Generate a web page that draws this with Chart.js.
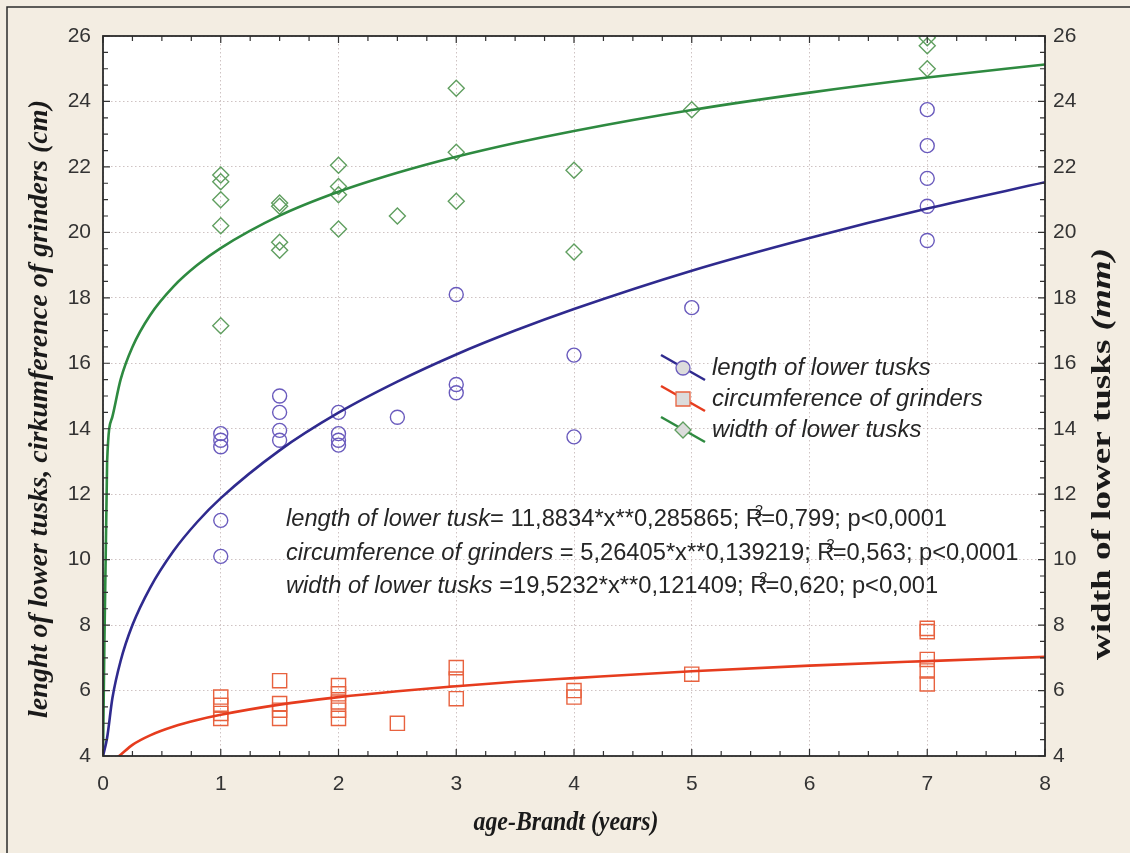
<!DOCTYPE html>
<html><head><meta charset="utf-8">
<script src="https://cdn.jsdelivr.net/npm/chart.js@4.4.1/dist/chart.umd.min.js"></script>
<style>html,body{margin:0;padding:0;background:#f3ede2;} canvas{display:block}</style>
</head><body>
<canvas id="c" width="1130" height="853" style="width:1130px;height:853px"></canvas>
<script>
// ---- data ----
const xTicks = [0,1,2,3,4,5,6,7,8];
const yTicks = [4,6,8,10,12,14,16,18,20,22,24,26];

const lengthX = [1,1,1,1,1, 1.5,1.5,1.5,1.5, 2,2,2,2, 2.5, 3,3,3, 4,4, 5, 7,7,7,7,7];
const lengthY = [13.85,13.65,13.45,11.2,10.1, 15.0,14.5,13.95,13.65, 14.5,13.85,13.65,13.5, 14.35, 18.1,15.35,15.1, 16.25,13.75, 17.7, 23.75,22.65,21.65,20.8,19.75];

const circX = [1,1,1,1, 1.5,1.5,1.5,1.5, 2,2,2,2,2, 2.5, 3,3,3, 4,4, 5, 7,7,7,7,7];
const circY = [5.8,5.55,5.3,5.15, 6.3,5.6,5.4,5.15, 6.15,5.9,5.65,5.4,5.15, 5.0, 6.7,6.35,5.75, 6.0,5.8, 6.5, 7.9,7.8,6.95,6.6,6.2];

const widthX = [1,1,1,1,1, 1.5,1.5,1.5,1.5, 2,2,2,2, 2.5, 3,3,3, 4,4, 5, 7,7,7];
const widthY = [21.75,21.55,21.0,20.2,17.15, 20.9,20.8,19.7,19.45, 22.05,21.4,21.15,20.1, 20.5, 24.4,22.45,20.95, 21.9,19.4, 23.75, 25.95,25.7,25.0];

// fitted curves
const fitX       = [0, 0.035, 0.08, 0.15, 0.25, 0.4, 0.6, 0.8, 1, 1.5, 2, 2.5, 3, 3.5, 4, 5, 6, 7, 8];
const lengthFit  = [4, 4.56, 5.77, 6.91, 8.0, 9.14, 10.27, 11.15, 11.88, 13.34, 14.49, 15.44, 16.27, 17.0, 17.66, 18.83, 19.83, 20.73, 21.53];
const widthFit   = [4, 13.0, 14.37, 15.51, 16.5, 17.47, 18.35, 19.0, 19.52, 20.51, 21.24, 21.82, 22.31, 22.73, 23.1, 23.74, 24.27, 24.73, 25.13];
const circFitX   = [0.1, 0.15, 0.25, 0.4, 0.6, 0.8, 1, 1.5, 2, 2.5, 3, 3.5, 4, 5, 6, 7, 8];
const circFit    = [3.9, 4.04, 4.34, 4.63, 4.90, 5.10, 5.26, 5.57, 5.80, 5.98, 6.13, 6.27, 6.38, 6.59, 6.76, 6.90, 7.03];

const seriesNames = ['length of lower tusks','circumference of grinders','width of lower tusks'];
const eqLines = [
  ['length of lower tusk', '= 11,8834*x**0,285865; R', '=0,799; p<0,0001'],
  ['circumference of grinders', ' = 5,26405*x**0,139219; R', '=0,563; p<0,0001'],
  ['width of lower tusks', ' =19,5232*x**0,121409; R', '=0,620; p<0,001']
];
const xTitle = 'age-Brandt (years)';
const yTitle = 'lenght of lower tusks, cirkumference of grinders (cm)';
const y2Title = ['width of lower tusks ', '(mm)'];

// ---- styles ----
const BLUE_LINE='#2f2a8e', BLUE_PT='#6a5bbd';
const RED_LINE='#e63c1e', RED_PT='#e8623f';
const GREEN_LINE='#2e8a40', GREEN_PT='#5f9e5f';
const SANS='"Liberation Sans", Arial, sans-serif';
const SERIF='"Liberation Serif", "Times New Roman", serif';
const pts = (xs, ys) => xs.map((x,i)=>({x, y: ys[i]}));

function drawRich(ctx, segs, x, y, scaleX, align){
  let w=0;
  segs.forEach(s=>{ctx.font=s.font; s.w=ctx.measureText(s.t).width; w += s.w + (s.dx||0);});
  ctx.save(); ctx.translate(x,y); ctx.scale(scaleX,1);
  let cx = align==='center' ? -w/2 : 0;
  segs.forEach(s=>{ctx.font=s.font; ctx.fillText(s.t, cx+(s.dx||0), s.dy||0); cx += s.w+(s.dx||0);});
  ctx.restore();
  return w;
}
function richWidth(ctx, segs){let w=0; segs.forEach(s=>{ctx.font=s.font; w+=ctx.measureText(s.t).width+(s.dx||0);}); return w;}

const bgPlugin = {
  id:'bg',
  beforeDraw(chart){
    const {ctx, chartArea:a} = chart;
    ctx.save();
    ctx.fillStyle='#f3ede2'; ctx.fillRect(0,0,chart.width,chart.height);
    ctx.fillStyle='#ffffff'; ctx.fillRect(a.left,a.top,a.right-a.left,a.bottom-a.top);
    ctx.strokeStyle='#2b2b2b'; ctx.lineWidth=1.5;
    ctx.beginPath(); ctx.moveTo(7,chart.height); ctx.lineTo(7,7); ctx.lineTo(chart.width,7); ctx.stroke();
    ctx.restore();
  }
};

const framePlugin = {
  id:'frame',
  afterDraw(chart){
    const {ctx, chartArea:a, scales} = chart;
    const sx = scales.x, sy = scales.y;
    ctx.save();
    // inward ticks
    ctx.strokeStyle='#333'; ctx.lineWidth=1.2;
    ctx.beginPath();
    for(let v=0; v<=8.0001; v+=0.25){
      const p = sx.getPixelForValue(v); const L = (Math.abs(v-Math.round(v))<1e-6)?7:5;
      ctx.moveTo(p,a.bottom); ctx.lineTo(p,a.bottom-L);
      ctx.moveTo(p,a.top); ctx.lineTo(p,a.top+L);
    }
    for(let v=4; v<=26.0001; v+=0.5){
      const p = sy.getPixelForValue(v); const L = (Math.abs(v/2-Math.round(v/2))<1e-6)?7:5;
      ctx.moveTo(a.left,p); ctx.lineTo(a.left+L,p);
      ctx.moveTo(a.right,p); ctx.lineTo(a.right-L,p);
    }
    ctx.stroke();
    // frame
    ctx.strokeStyle='#2b2b2b'; ctx.lineWidth=1.8;
    ctx.strokeRect(a.left,a.top,a.right-a.left,a.bottom-a.top);

    // legend
    const legend = [
      {c:BLUE_LINE, p:BLUE_PT, s:'circle', y:368},
      {c:RED_LINE, p:RED_PT, s:'rect', y:399},
      {c:GREEN_LINE, p:GREEN_PT, s:'diamond', y:430}
    ];
    legend.forEach((L,i)=>{
      ctx.strokeStyle=L.c; ctx.lineWidth=2.5;
      ctx.beginPath(); ctx.moveTo(661,L.y-13); ctx.lineTo(705,L.y+12); ctx.stroke();
      ctx.fillStyle='#dcdcdc'; ctx.strokeStyle=L.p; ctx.lineWidth=1.3;
      ctx.beginPath();
      if(L.s==='circle'){ ctx.arc(683,L.y,7,0,Math.PI*2); }
      else if(L.s==='rect'){ ctx.rect(676,L.y-7,14,14); }
      else { ctx.moveTo(683,L.y-8); ctx.lineTo(691,L.y); ctx.lineTo(683,L.y+8); ctx.lineTo(675,L.y); ctx.closePath(); }
      ctx.fill(); ctx.stroke();
      ctx.fillStyle='#262626'; ctx.textBaseline='middle'; ctx.textAlign='left';
      ctx.font='italic 24px '+SANS;
      ctx.fillText(seriesNames[i], 712, L.y);
    });

    // equations
    ctx.fillStyle='#262626'; ctx.textBaseline='alphabetic'; ctx.textAlign='left';
    const eqY=[526,560,593];
    const mk = (e)=>[
      {t:e[0], font:'italic 23px '+SANS},
      {t:e[1], font:'23px '+SANS},
      {t:'2', font:'15px '+SANS, dx:-8, dy:-11},
      {t:e[2], font:'23px '+SANS, dx:-2}
    ];
    const w0 = richWidth(ctx, mk(eqLines[0]));
    const scl = 661 / w0;
    eqLines.forEach((e,i)=>drawRich(ctx, mk(e), 286, eqY[i], scl, 'left'));

    // axis titles
    ctx.fillStyle='#1a1a1a';
    ctx.textBaseline='middle';
    {
      const segs=[{t:xTitle, font:'italic bold 27px '+SERIF}];
      const w=richWidth(ctx,segs);
      drawRich(ctx, segs, 566, 823, 185/w, 'center');
    }
    {
      ctx.save(); ctx.translate(40,409); ctx.rotate(-Math.PI/2);
      const segs=[{t:yTitle, font:'italic bold 28px '+SERIF}];
      const w=richWidth(ctx,segs);
      drawRich(ctx, segs, 0, 0, 618/w, 'center');
      ctx.restore();
    }
    {
      ctx.save(); ctx.translate(1103,454); ctx.rotate(-Math.PI/2);
      const segs=[{t:y2Title[0], font:'bold 28px '+SERIF},{t:y2Title[1], font:'italic bold 28px '+SERIF}];
      const w=richWidth(ctx,segs);
      drawRich(ctx, segs, 0, 0, 412/w, 'center');
      ctx.restore();
    }
    ctx.restore();
  }
};

const tickFont = {family:SANS, size:21};
const gridColor = 'rgba(175,155,155,0.6)';

new Chart(document.getElementById('c'), {
  type:'scatter',
  data:{datasets:[
    {label:seriesNames[0]+' fit', data:pts(fitX,lengthFit), showLine:true, borderColor:BLUE_LINE, borderWidth:2.6, pointRadius:0, cubicInterpolationMode:'monotone', order:1},
    {label:seriesNames[1]+' fit', data:pts(circFitX,circFit), showLine:true, borderColor:RED_LINE, borderWidth:2.6, pointRadius:0, cubicInterpolationMode:'monotone', order:1},
    {label:seriesNames[2]+' fit', data:pts(fitX,widthFit), showLine:true, borderColor:GREEN_LINE, borderWidth:2.6, pointRadius:0, cubicInterpolationMode:'monotone', order:1},
    {label:seriesNames[0], data:pts(lengthX,lengthY), pointStyle:'circle', pointRadius:7, pointBorderWidth:1.4, borderColor:BLUE_PT, backgroundColor:'rgba(0,0,0,0)', order:2},
    {label:seriesNames[1], data:pts(circX,circY), pointStyle:'rect', pointRadius:10, pointBorderWidth:1.4, borderColor:RED_PT, backgroundColor:'rgba(0,0,0,0)', order:2},
    {label:seriesNames[2], data:pts(widthX,widthY), pointStyle:'rectRot', pointRadius:8, pointBorderWidth:1.4, borderColor:GREEN_PT, backgroundColor:'rgba(0,0,0,0)', order:2}
  ]},
  options:{
    responsive:false, animation:false, devicePixelRatio:1,
    layout:{padding:{top:36,left:0,right:0,bottom:0}},
    plugins:{legend:{display:false}, tooltip:{enabled:false}},
    scales:{
      x:{type:'linear', min:0, max:8,
         afterBuildTicks(s){ s.ticks = xTicks.map(v=>({value:v})); },
         ticks:{font:tickFont, color:'#333', padding:16, maxRotation:0},
         grid:{color:gridColor, drawTicks:false, lineWidth:1},
         border:{display:false, dash:[1.5,2.5]},
         afterFit(s){ s.height=97; }},
      y:{type:'linear', position:'left', min:4, max:26,
         afterBuildTicks(s){ s.ticks = yTicks.map(v=>({value:v})); },
         ticks:{font:tickFont, color:'#333', padding:12},
         grid:{color:gridColor, drawTicks:false, lineWidth:1},
         border:{display:false, dash:[1.5,2.5]},
         afterFit(s){ s.width=103; }},
      y2:{type:'linear', position:'right', min:4, max:26,
         afterBuildTicks(s){ s.ticks = yTicks.map(v=>({value:v})); },
         ticks:{font:tickFont, color:'#333', padding:8},
         grid:{display:false, drawTicks:false},
         border:{display:false},
         afterFit(s){ s.width=85; }}
    }
  },
  plugins:[bgPlugin, framePlugin]
});
</script></body></html>
